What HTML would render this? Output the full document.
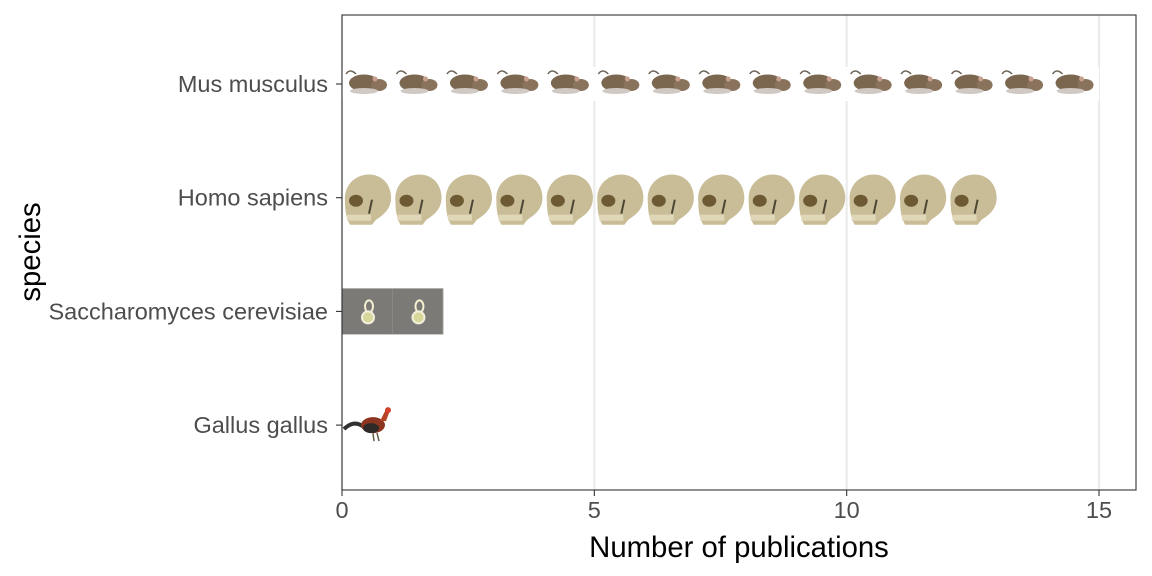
<!DOCTYPE html>
<html><head><meta charset="utf-8"><style>
html,body{margin:0;padding:0;background:#fff;}
svg{display:block;font-family:"Liberation Sans",sans-serif;}
</style></head><body>
<svg id="chart" width="1152" height="576" viewBox="0 0 1152 576">
<rect x="0" y="0" width="1152" height="576" fill="#fff"/>
<g id="grid"></g>
<g id="marks"></g>
<rect x="342" y="15" width="794" height="475" fill="none" stroke="#333" stroke-width="1.1"/>
<g id="axes"></g>
<text x="739" y="557" text-anchor="middle" font-size="29.3" fill="#000">Number of publications</text>
<text transform="translate(40,252) rotate(-90)" text-anchor="middle" font-size="29.3" fill="#000">species</text>
</svg>
<script>
const categories = ["Mus musculus","Homo sapiens","Saccharomyces cerevisiae","Gallus gallus"];
const counts = [15, 13, 2, 1];
const xTicks = [0, 5, 10, 15];
const xTickLabels = ["0","5","10","15"];

const NS = "http://www.w3.org/2000/svg";
const X0 = 342, UNIT = (1099 - 342) / 15;
function xs(v){ return X0 + v * UNIT; }
function ys(i){ return 84 + i * 113.7; }
function mk(tag, attrs, parent){
  const e = document.createElementNS(NS, tag);
  for (const k in attrs) e.setAttribute(k, attrs[k]);
  parent.appendChild(e); return e;
}
const grid = document.getElementById('grid');
const marks = document.getElementById('marks');
const axes = document.getElementById('axes');

xTicks.forEach((t, i) => {
  const l = mk('line', {x1: xs(t), x2: xs(t), y1: 15, y2: 490, stroke: '#ebebeb', 'stroke-width': 2.2}, grid);
  
  
  const tk = mk('line', {x1: xs(t), x2: xs(t), y1: 490, y2: 496, stroke: '#333', 'stroke-width': 1.1}, axes);
  
  
  const tx = mk('text', {x: xs(t), y: 518, 'text-anchor': 'middle', 'font-size': 23.5, fill: '#4d4d4d'}, axes);
  tx.textContent = xTickLabels[i];
  
  
});
categories.forEach((c, i) => {
  const y = ys(i);
  const tk = mk('line', {x1: 336, x2: 342, y1: y, y2: y, stroke: '#333', 'stroke-width': 1.1}, axes);
  
  
  const tx = mk('text', {x: 328, y: y + 8, 'text-anchor': 'end', 'font-size': 23.5, fill: '#4d4d4d'}, axes);
  tx.textContent = c;
  
  
});

function mouse(g, x, y){
  const w = UNIT;
  mk('rect', {x: x, y: y - 17, width: w, height: 34, fill: '#fff'}, g);
  mk('path', {d: `M${x+4} ${y-10} q4 -6 10 0`, stroke: '#6d6256', 'stroke-width': 1.5, fill: 'none'}, g);
  mk('ellipse', {cx: x + 22, cy: y - 1, rx: 15, ry: 8.5, fill: '#7b6650'}, g);
  mk('ellipse', {cx: x + 37, cy: y + 1, rx: 8, ry: 6, fill: '#8a735c'}, g);
  mk('ellipse', {cx: x + 22, cy: y + 7, rx: 14, ry: 3, fill: '#cfc8c3'}, g);
  mk('circle', {cx: x + 33, cy: y - 5, r: 2.5, fill: '#c9a08e'}, g);
}
function skull(g, x, y){
  mk('path', {d: `M${x+3} ${y+4} C${x} ${y-28} ${x+46} ${y-34} ${x+49} ${y-2} C${x+50} ${y+12} ${x+40} ${y+18} ${x+34} ${y+22} L${x+30} ${y+27} L${x+8} ${y+27} C${x+4} ${y+20} ${x+3} ${y+12} ${x+3} ${y+4} Z`, fill: '#c9bd98'}, g);
  mk('ellipse', {cx: x + 14, cy: y + 3, rx: 7, ry: 6, fill: '#6d5a32'}, g);
  mk('rect', {x: x + 5, y: y + 17, width: 24, height: 6, fill: '#e0d7b8'}, g);
  mk('path', {d: `M${x+30} ${y+2} l-3 14`, stroke: '#4c4533', 'stroke-width': 2}, g);
}
function yeast(g, x, y){
  const w = UNIT;
  mk('rect', {x: x, y: y - 23, width: w, height: 46, fill: '#7c7a77'}, g);
  mk('line', {x1: x + w, x2: x + w, y1: y - 23, y2: y + 23, stroke: '#9a9894', 'stroke-width': 1}, g);
  mk('ellipse', {cx: x + 27, cy: y - 5, rx: 4, ry: 6, fill: 'none', stroke: '#f4f0d0', 'stroke-width': 2}, g);
  mk('ellipse', {cx: x + 26, cy: y + 6, rx: 6, ry: 6, fill: '#d7d79a', stroke: '#f2eedd', 'stroke-width': 2}, g);
}
function rooster(g, x, y){
  mk('path', {d: `M${x+2} ${y+4} q10 -10 20 -2`, stroke: '#2f3230', 'stroke-width': 4, fill: 'none'}, g);
  mk('ellipse', {cx: x + 31, cy: y, rx: 12, ry: 8, fill: '#8c3520'}, g);
  mk('ellipse', {cx: x + 29, cy: y + 3, rx: 8, ry: 5, fill: '#2f2a28'}, g);
  mk('path', {d: `M${x+38} ${y-4} L${x+44} ${y-16} L${x+48} ${y-15} L${x+44} ${y-4} Z`, fill: '#b54425'}, g);
  mk('circle', {cx: x + 46, cy: y - 15, r: 3, fill: '#d2412b'}, g);
  mk('path', {d: `M${x+31} ${y+8} l1 8 M${x+35} ${y+8} l2 8`, stroke: '#6b5a44', 'stroke-width': 1.5}, g);
}
const drawers = [mouse, skull, yeast, rooster];
categories.forEach((c, i) => {
  const g = mk('g', {}, marks);
  
  
  for (let k = 0; k < counts[i]; k++) {
    const ig = mk('g', {}, g);
    
    
    drawers[i](ig, xs(k), ys(i));
  }
});
</script>
</body></html>
